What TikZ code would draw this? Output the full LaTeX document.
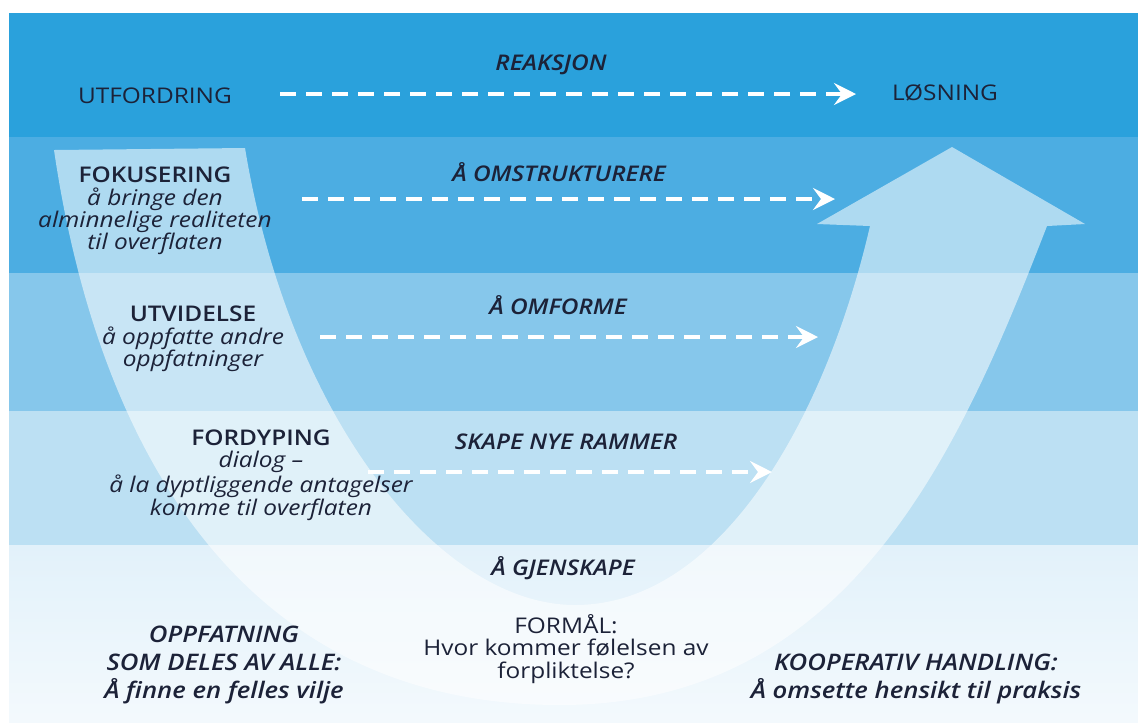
\documentclass[tikz,border=0pt]{standalone}
\usepackage{fontspec}
\setmainfont{Open Sans}[FakeStretch=1.13, BoldFont={* Semibold}, BoldItalicFont={* Semibold Italic}]
\usetikzlibrary{arrows.meta}

\definecolor{bandA}{HTML}{2AA1DC}
\definecolor{bandB}{HTML}{4CADE2}
\definecolor{bandC}{HTML}{86C7EB}
\definecolor{bandD}{HTML}{BCE0F3}
\definecolor{bandE}{HTML}{E2F1FA}
\definecolor{ink}{HTML}{1C2238}

\tikzset{
  plain/.style={text=ink, align=center, inner sep=0pt, font=\fontsize{10.8}{11.2}\selectfont},
  move/.style={plain, font=\fontsize{10.8}{11.2}\selectfont\bfseries\itshape},
  big/.style={plain, font=\fontsize{11.4}{13.8}\selectfont\bfseries\itshape},
  flow/.style={draw=white, line width=2pt, dash pattern=on 8pt off 5pt,
    -{Stealth[length=11pt,width=11pt,inset=4pt]}},
  uarrow/.style={fill=white, fill opacity=0.55}
}

\begin{document}
\begin{tikzpicture}[x=0.5pt, y=-0.5pt]
  \useasboundingbox (0,0) rectangle (1138,725);
  % bakgrunn i bånd
  \fill[white] (0,0) rectangle (1138,725);
  \fill[bandA] (9,13) rectangle (1138,137);
  \fill[bandB] (9,137) rectangle (1138,273);
  \fill[bandC] (9,273) rectangle (1138,411);
  \fill[bandD] (9,411) rectangle (1138,545);
  \shade[top color=bandE, bottom color=bandE!40!white] (9,545) rectangle (1138,722);

  % U-pilen
  \fill[uarrow] (54,150) .. controls (95,430) and (230,705) .. (560,705)
    .. controls (850,705) and (960,450) .. (1047,226)
    -- (1085,224) -- (952,147) -- (817,224) -- (870,226)
    .. controls (825,420) and (720,605) .. (575,605)
    .. controls (440,605) and (290,420) .. (245,148) -- cycle;

  % øverste rad
  \node[plain] (utf) at (155,96) {UTFORDRING};
  \node[move] (reak) at (551,65) {REAKSJON};
  \node[plain] (los) at (945,93) {LØSNING};

  % venstre side
  \node[plain] (fok) at (155,211) {{\bfseries FOKUSERING}\\{\itshape å bringe den}\\
    {\itshape alminnelige realiteten}\\{\itshape til overflaten}};
  \node[plain] (utv) at (193,339) {{\bfseries UTVIDELSE}\\{\itshape å oppfatte andre}\\
    {\itshape oppfatninger}};
  \node[plain] (fordyp) at (261,475) {{\bfseries FORDYPING}\\{\itshape dialog –}\\
    {\itshape å la dyptliggende antagelser}\\{\itshape komme til overflaten}};
  \node[big] (oppf) at (224,665) {OPPFATNING\\SOM DELES AV ALLE:\\Å finne en felles vilje};

  % midten
  \node[move] (omstr) at (559,172) {Å OMSTRUKTURERE};
  \node[move] (omf) at (558,305) {Å OMFORME};
  \node[move] (skape) at (566,442) {SKAPE NYE RAMMER};
  \node[move] (gjen) at (563,568) {Å GJENSKAPE};
  \node[plain] (formaal) at (566,649) {FORMÅL:\\Hvor kommer følelsen av\\forpliktelse?};

  % høyre side
  \node[big] (koop) at (916,679) {KOOPERATIV HANDLING:\\Å omsette hensikt til praksis};

  % stiplede piler
  \coordinate (p1s) at (280,94);
  \coordinate (p1e) at (856,94);
  \coordinate (p2s) at (302,199);
  \coordinate (p2e) at (835,199);
  \coordinate (p3s) at (320,337);
  \coordinate (p3e) at (818,337);
  \coordinate (p4s) at (368,472);
  \coordinate (p4e) at (772,472);
  \draw[flow] (p1s) -- (p1e);
  \draw[flow] (p2s) -- (p2e);
  \draw[flow] (p3s) -- (p3e);
  \draw[flow] (p4s) -- (p4e);
\end{tikzpicture}
\end{document}
